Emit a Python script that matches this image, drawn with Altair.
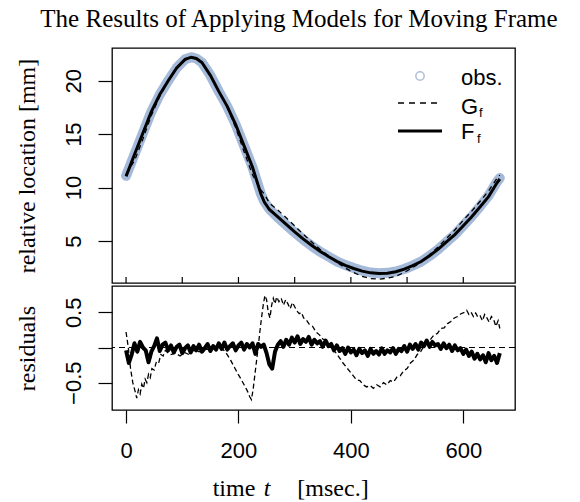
import altair as alt
import pandas as pd

TITLE = "The Results of Applying Models for Moving Frame"

# ---- top panel: observed location and fitted models (t in msec, value in mm)
t_top = [0, 15, 30, 45, 60, 75, 90, 105, 116, 125, 135, 150, 165, 180, 195, 210, 225, 240,
         246, 255, 270, 285, 300, 315, 330, 345, 360, 375, 390, 405, 420, 435, 450, 465,
         480, 495, 510, 525, 540, 555, 570, 585, 600, 615, 630, 645, 660, 665]
obs = [11.1, 13.1, 15.1, 17.1, 18.7, 20.0, 21.2, 22.0, 22.2, 22.08, 21.7, 20.5, 19.0, 17.6,
       15.9, 13.9, 11.9, 9.4, 8.7, 8.0, 7.2, 6.5, 5.8, 5.15, 4.55, 4.0, 3.55, 3.1, 2.75,
       2.47, 2.22, 2.05, 1.98, 2.02, 2.15, 2.38, 2.7, 3.07, 3.6, 4.2, 4.9, 5.6, 6.45, 7.3,
       8.25, 9.25, 10.55, 10.9]
model_F = [11.05, 13.1, 15.1, 17.1, 18.7, 20.0, 21.2, 22.0, 22.2, 22.08, 21.7, 20.5, 19.0,
           17.6, 15.9, 13.9, 11.9, 9.4, 8.65, 7.95, 7.25, 6.55, 5.85, 5.2, 4.6, 4.05, 3.55,
           3.1, 2.72, 2.43, 2.18, 2.02, 1.95, 1.98, 2.12, 2.37, 2.7, 3.08, 3.62, 4.22, 4.92,
           5.6, 6.43, 7.27, 8.2, 9.15, 10.45, 10.8]
model_G = [11.3, 12.5, 14.55, 16.75, 18.55, 19.95, 21.12, 21.92, 22.15, 22.04, 21.68, 20.5,
           19.0, 17.55, 15.6, 13.35, 11.2, 9.75, 9.4, 8.55, 7.9, 7.17, 6.42, 5.65, 4.93,
           4.22, 3.63, 3.02, 2.47, 2.04, 1.69, 1.48, 1.43, 1.52, 1.7, 2.06, 2.5, 3.04, 3.72,
           4.44, 5.23, 6.03, 6.94, 7.8, 8.72, 9.68, 10.87, 11.17]

# ---- bottom panel: residuals
t_resF = list(range(0, 670, 5))
res_F = [-0.04, -0.22, -0.10, 0.06, -0.06, 0.08, 0.00, -0.04, -0.21, -0.06,
         0.02, 0.13, -0.05, 0.04, 0.07, -0.04, 0.03, -0.07, 0.01, 0.04,
         -0.08, -0.01, 0.03, -0.07, 0.02, -0.04, 0.04, -0.06, -0.01, 0.05,
         -0.05, 0.02, -0.03, 0.06, -0.02, 0.07, -0.03, 0.02, 0.06, -0.04,
         0.03, 0.07, -0.03, 0.05, 0.00, 0.06, -0.09, 0.05, 0.01, 0.04,
         -0.08, -0.24, -0.30, -0.06, 0.04, 0.09, 0.01, 0.11, 0.04, 0.14,
         0.07, 0.16, 0.05, 0.12, 0.08, 0.15, 0.04, 0.11, 0.06, 0.09,
         0.01, 0.10, 0.02, 0.05, -0.04, 0.03, -0.05, -0.01, -0.09, 0.00,
         -0.07, -0.03, -0.11, -0.02, -0.08, -0.04, -0.12, -0.02, -0.09, -0.05,
         -0.10, -0.01, -0.09, -0.04, -0.07, -0.01, -0.09, -0.02, -0.05, 0.02,
         -0.06, 0.04, -0.02, 0.05, -0.03, 0.07, 0.02, 0.10, 0.01, 0.08,
         0.03, 0.05, -0.02, 0.06, -0.01, 0.04, -0.05, 0.03, -0.04, -0.01,
         -0.09, -0.03, -0.12, -0.06, -0.16, -0.09, -0.17, -0.11, -0.21, -0.08,
         -0.18, -0.12, -0.22, -0.08]

t_resG = [0, 4, 8, 12, 16, 19, 22, 25, 28, 31, 34, 37, 40, 43, 46, 50, 54, 58, 62, 66, 70,
          75, 80, 88, 96, 104, 112, 120, 130, 140, 150, 160, 168, 174, 180, 186, 192, 198,
          204, 210, 216, 220, 223, 226, 229, 232, 235, 238, 241, 244, 247, 250, 253, 256,
          259, 262, 265, 268, 272, 276, 280, 284, 288, 292, 296, 300, 304, 308, 312, 316,
          320, 326, 332, 338, 344, 350, 356, 362, 368, 374, 380, 386, 392, 398, 404, 410,
          416, 422, 428, 434, 440, 446, 452, 458, 464, 470, 476, 482, 488, 494, 500, 506,
          512, 518, 524, 530, 536, 542, 548, 554, 560, 566, 572, 578, 584, 590, 596, 602,
          606, 610, 614, 618, 622, 626, 630, 634, 638, 642, 646, 650, 654, 658, 662, 665]
res_G = [0.22, 0.0, -0.3, -0.5, -0.62, -0.72, -0.6, -0.66, -0.52, -0.58, -0.45, -0.5, -0.38,
         -0.43, -0.3, -0.32, -0.2, -0.22, -0.1, -0.12, -0.04, -0.08, -0.1, -0.08, -0.12,
         -0.07, -0.1, -0.04, -0.06, -0.02, -0.03, 0.01, 0.0, -0.04, -0.1, -0.18, -0.27,
         -0.36, -0.44, -0.53, -0.62, -0.7, -0.74, -0.6, -0.4, -0.2, 0.0, 0.22, 0.42, 0.6,
         0.74, 0.68, 0.5, 0.42, 0.6, 0.7, 0.62, 0.72, 0.65, 0.7, 0.6, 0.68, 0.62, 0.55,
         0.64, 0.58, 0.52, 0.48, 0.5, 0.42, 0.4, 0.33, 0.3, 0.22, 0.18, 0.12, 0.1, 0.02,
         -0.03, -0.08, -0.15, -0.22, -0.28, -0.34, -0.4, -0.46, -0.47, -0.53, -0.56, -0.54,
         -0.58, -0.53, -0.56, -0.5, -0.53, -0.47, -0.49, -0.42, -0.4, -0.33, -0.3, -0.22,
         -0.18, -0.1, -0.06, 0.02, 0.06, 0.12, 0.18, 0.2, 0.27, 0.28, 0.34, 0.37, 0.42,
         0.44, 0.48, 0.5, 0.53, 0.47, 0.5, 0.44, 0.49, 0.43, 0.45, 0.38, 0.47, 0.42, 0.36,
         0.44, 0.4, 0.3, 0.38, 0.27]

top_ticks = [0, 100, 200, 300, 400, 500, 600]
bottom_ticks = [0, 200, 400, 600]
loc_ticks = [5, 10, 15, 20]
res_ticks = [-0.5, 0, 0.5]
zero_line = [0]

W, H1, H2 = 403, 235, 124
OBS_COLOR = "#A5BAD9"
SANS = "Liberation Sans"
SERIF = "Liberation Serif"

xscale = alt.Scale(domain=[-25, 692], nice=False, zero=False)
y1scale = alt.Scale(domain=[1.07, 23.06], nice=False, zero=False)
y2scale = alt.Scale(domain=[-0.888, 0.874], nice=False, zero=False)


def yaxis(values, title, h, label_expr=None):
    kw = dict(values=values, tickSize=14, tickColor="black", tickWidth=1.2,
              domain=False, grid=False, labelAngle=270, labelAlign="center",
              labelBaseline="alphabetic", labelPadding=18, labelFont=SANS,
              labelFontSize=22, labelColor="black", title=title, titleFont=SERIF,
              titleFontSize=24, titleFontWeight="normal", titleColor="black",
              titleAngle=270, titleX=-85, titleY=h / 2, titleAlign="center",
              titleBaseline="middle")
    if label_expr:
        kw["labelExpr"] = label_expr
    return alt.Axis(**kw)


top_df = pd.DataFrame({"t": t_top, "obs": obs, "F": model_F, "G": model_G})
dummy = pd.DataFrame({"k": [0]})

band = alt.Chart(top_df).mark_line(
    color=OBS_COLOR, strokeWidth=10, strokeCap="round", strokeJoin="round", clip=True
).encode(
    x=alt.X("t:Q", scale=xscale, axis=None),
    y=alt.Y("obs:Q", scale=y1scale, axis=yaxis(loc_ticks, "relative location [mm]", H1)),
)
g_line = alt.Chart(top_df).mark_line(
    color="black", strokeWidth=1.3, strokeDash=[5, 4], clip=True
).encode(x=alt.X("t:Q", scale=xscale), y=alt.Y("G:Q", scale=y1scale))
f_line = alt.Chart(top_df).mark_line(
    color="black", strokeWidth=3, clip=True
).encode(x=alt.X("t:Q", scale=xscale), y=alt.Y("F:Q", scale=y1scale))
tick_in = alt.Chart(pd.DataFrame({"t": top_ticks})).mark_rule(
    color="black", strokeWidth=1.2
).encode(x=alt.X("t:Q", scale=xscale), y=alt.value(H1 - 6), y2=alt.value(H1))

# legend (drawn inside the top panel)
leg_circle = alt.Chart(dummy).mark_point(
    shape="circle", filled=False, size=70, stroke="#8EA4C8", strokeWidth=1.5
).encode(x=alt.value(308), y=alt.value(28))
leg_dash = alt.Chart(dummy).mark_rule(
    color="black", strokeWidth=1.3, strokeDash=[6, 5]
).encode(x=alt.value(286), x2=alt.value(328), y=alt.value(55))
leg_solid = alt.Chart(dummy).mark_rule(color="black", strokeWidth=3).encode(
    x=alt.value(286), x2=alt.value(330), y=alt.value(83))


def leg_text(txt, x, y, size):
    return alt.Chart(dummy).mark_text(
        text=txt, font=SANS, fontSize=size, align="left", baseline="middle", color="black"
    ).encode(x=alt.value(x), y=alt.value(y))


title_mark = alt.Chart(dummy).mark_text(
    text=TITLE, font=SERIF, fontSize=25, align="center", baseline="middle", color="black"
).encode(x=alt.value(187), y=alt.value(-29))

top = alt.layer(
    band, g_line, f_line, tick_in, leg_circle, leg_dash, leg_solid,
    leg_text("obs.", 349, 30, 22), leg_text("G", 349, 59, 22), leg_text("f", 367, 65, 13),
    leg_text("F", 349, 84, 22), leg_text("f", 365, 91, 13), title_mark,
).properties(width=W, height=H1)

resF_df = pd.DataFrame({"t": t_resF, "r": res_F})
resG_df = pd.DataFrame({"t": t_resG, "r": res_G})

xaxis_bottom = alt.Axis(values=bottom_ticks, tickSize=13, tickColor="black", tickWidth=1.2,
                        domain=False, grid=False, labelFont=SANS, labelFontSize=22,
                        labelColor="black", labelPadding=17, labelAngle=0, title=None)

zero = alt.Chart(pd.DataFrame({"z": zero_line})).mark_rule(
    color="black", strokeWidth=1.2, strokeDash=[6, 4]
).encode(y=alt.Y("z:Q", scale=y2scale))
resG = alt.Chart(resG_df).mark_line(
    color="black", strokeWidth=1.3, strokeDash=[5, 3], clip=True
).encode(x=alt.X("t:Q", scale=xscale), y=alt.Y("r:Q", scale=y2scale))
resF = alt.Chart(resF_df).mark_line(
    color="black", strokeWidth=4, strokeJoin="round", clip=True
).encode(
    x=alt.X("t:Q", scale=xscale, axis=xaxis_bottom),
    y=alt.Y("r:Q", scale=y2scale,
            axis=yaxis(res_ticks, "residuals", H2,
                       "datum.value == 0 ? '' : replace(format(datum.value, '.1f'), '-', '\u2212')")),
)


def xtitle(txt, x, style="normal"):
    return alt.Chart(dummy).mark_text(
        text=txt, font=SERIF, fontSize=24, fontStyle=style, align="center",
        baseline="middle", color="black"
    ).encode(x=alt.value(x), y=alt.value(203))


bottom = alt.layer(
    zero, resG, resF,
    xtitle("time", 122), xtitle("t", 155, "italic"), xtitle("[msec.]", 221),
).properties(width=W, height=H2)

chart = alt.vconcat(top, bottom, spacing=0).properties(
    padding={"left": 14, "top": 6, "right": 15, "bottom": 0},
).configure_view(stroke="black", strokeWidth=1.3)

chart.save("out.html", embed_options={"renderer": "svg", "actions": False})
